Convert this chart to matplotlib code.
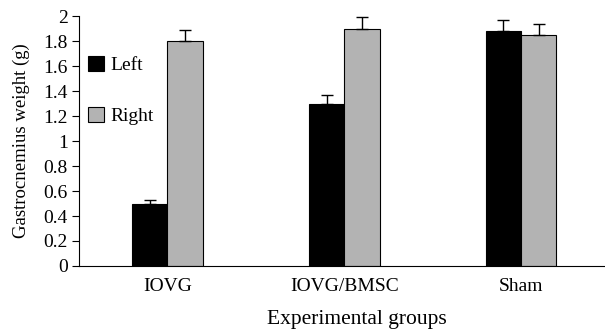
import matplotlib.pyplot as plt
import numpy as np

plt.rcParams.update(
    {
        "font.family": ["Liberation Serif", "DejaVu Serif"],
        "font.size": 14,
    }
)

groups = ["IOVG", "IOVG/BMSC", "Sham"]
left_mean = [0.50, 1.30, 1.88]
left_err = [0.03, 0.07, 0.09]
right_mean = [1.80, 1.90, 1.85]
right_err = [0.09, 0.09, 0.09]
y_ticks = [0, 0.2, 0.4, 0.6, 0.8, 1, 1.2, 1.4, 1.6, 1.8, 2]
y_tick_labels = ["0", "0.2", "0.4", "0.6", "0.8", "1", "1.2", "1.4", "1.6", "1.8", "2"]

fig = plt.figure(figsize=(6.05, 3.35), dpi=100)
ax = fig.add_axes([0.1306, 0.206, 0.8694, 0.746])

x = np.arange(len(groups))
width = 0.2
err_kw = {"elinewidth": 1, "capthick": 1, "capsize": 4, "ecolor": "black"}

ax.bar(
    x - width / 2, left_mean, width,
    color="black", edgecolor="black", linewidth=0.8,
    yerr=[np.zeros(3), left_err], error_kw=err_kw, label="Left",
)
ax.bar(
    x + width / 2, right_mean, width,
    color="#b3b3b3", edgecolor="black", linewidth=0.8,
    yerr=[np.zeros(3), right_err], error_kw=err_kw, label="Right",
)

ax.set_xlim(-0.5, 2.475)
ax.set_ylim(0, 2)
ax.set_yticks(y_ticks)
ax.set_yticklabels(y_tick_labels)
ax.set_xticks(x)
ax.set_xticklabels(groups)
ax.tick_params(axis="x", length=0, pad=9)
ax.tick_params(axis="y", length=5, direction="out", pad=3)

for side in ["top", "right"]:
    ax.spines[side].set_visible(False)
ax.spines["left"].set_linewidth(0.8)
ax.spines["bottom"].set_linewidth(0.8)

ax.set_ylabel("Gastrocnemius weight (g)", fontsize=13.5, labelpad=10)
ax.set_xlabel("Experimental groups", fontsize=15.5)
# label sits slightly right of the axes centre in the original
ax.xaxis.set_label_coords(0.529, -0.175)

ax.legend(
    loc="upper left", bbox_to_anchor=(-0.008, 0.895),
    frameon=False, handlelength=0.8, handleheight=0.8,
    handletextpad=0.35, labelspacing=1.7, borderaxespad=0.3,
)

fig.savefig("out.png", dpi=100)
